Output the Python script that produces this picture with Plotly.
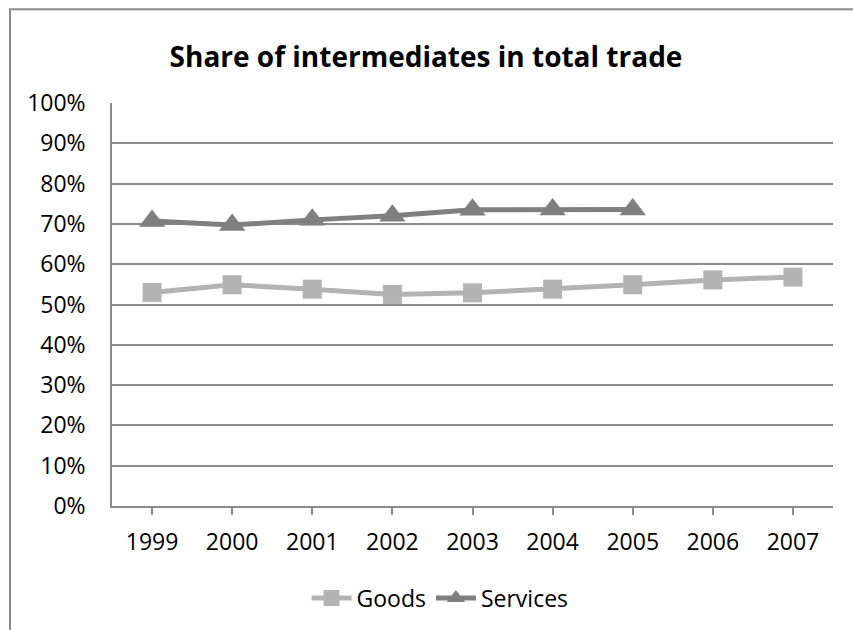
import plotly.graph_objects as go

# Share of intermediate goods/services in total trade, by year
years = ["1999", "2000", "2001", "2002", "2003", "2004", "2005", "2006", "2007"]
goods = [0.530, 0.549, 0.538, 0.525, 0.529, 0.538, 0.549, 0.561, 0.568]
services = [0.707, 0.697, 0.710, 0.720, 0.735, 0.736, 0.736, None, None]

title_text = "Share of intermediates in total trade"
font_family = "Open Sans, Lato, DejaVu Sans, sans-serif"
grid_color = "#8c8c8c"

fig = go.Figure()
fig.add_trace(go.Scatter(
    x=years, y=goods, name="Goods", mode="lines+markers",
    line=dict(color="#b3b3b3", width=5),
    marker=dict(symbol="square", size=19, color="#b3b3b3", line=dict(width=0)),
))
fig.add_trace(go.Scatter(
    x=years, y=services, name="Services", mode="lines+markers",
    line=dict(color="#7f7f7f", width=5),
    marker=dict(symbol="triangle-up", size=23, color="#7f7f7f", line=dict(width=0)),
))

# plot area: left 112px, right 833px, top 103px, bottom 507px
L, R, T, B = 112, 20, 103, 123
W, H = 853, 630
pw, ph = W - L - R, H - T - B

def px_x(p):
    return (p - L) / pw

def px_y(p):
    return (H - B - p) / ph

fig.update_layout(
    width=W, height=H,
    margin=dict(l=L, r=R, t=T, b=B),
    paper_bgcolor="white", plot_bgcolor="white",
    font=dict(family=font_family, size=23, color="#000000"),
    title=dict(
        text="<b>" + title_text + "</b>",
        x=426 / W, xanchor="center", xref="container",
        y=1 - 57 / H, yanchor="middle", yref="container",
        font=dict(size=28, family=font_family, color="#000000"),
    ),
    showlegend=True,
    legend=dict(
        orientation="h", xanchor="center", x=px_x(440),
        yanchor="middle", y=px_y(598),
        font=dict(size=23), itemwidth=40, bgcolor="rgba(0,0,0,0)",
    ),
    xaxis=dict(
        type="category", range=[-0.5, 8.5],
        showline=True, linecolor=grid_color, linewidth=1.5,
        ticks="outside", ticklen=7, tickcolor=grid_color, tickwidth=1.5,
        showgrid=False, zeroline=False, ticklabelstandoff=8,
        tickfont=dict(size=23),
    ),
    yaxis=dict(
        range=[0, 1], dtick=0.1, tick0=0, tickformat=".0%",
        showline=True, linecolor=grid_color, linewidth=1.5,
        showgrid=True, gridcolor=grid_color, gridwidth=1.5,
        zeroline=False, ticks="", ticklabelstandoff=20,
        tickfont=dict(size=23),
    ),
)

# outer chart frame, cut off at the right and bottom edges
fig.add_shape(
    type="rect", xref="paper", yref="paper",
    x0=px_x(10), x1=px_x(W + 20), y0=px_y(H + 20), y1=px_y(9),
    line=dict(color="#8c8c8c", width=2), fillcolor="rgba(0,0,0,0)", layer="below",
)

fig.write_html("out.html")
